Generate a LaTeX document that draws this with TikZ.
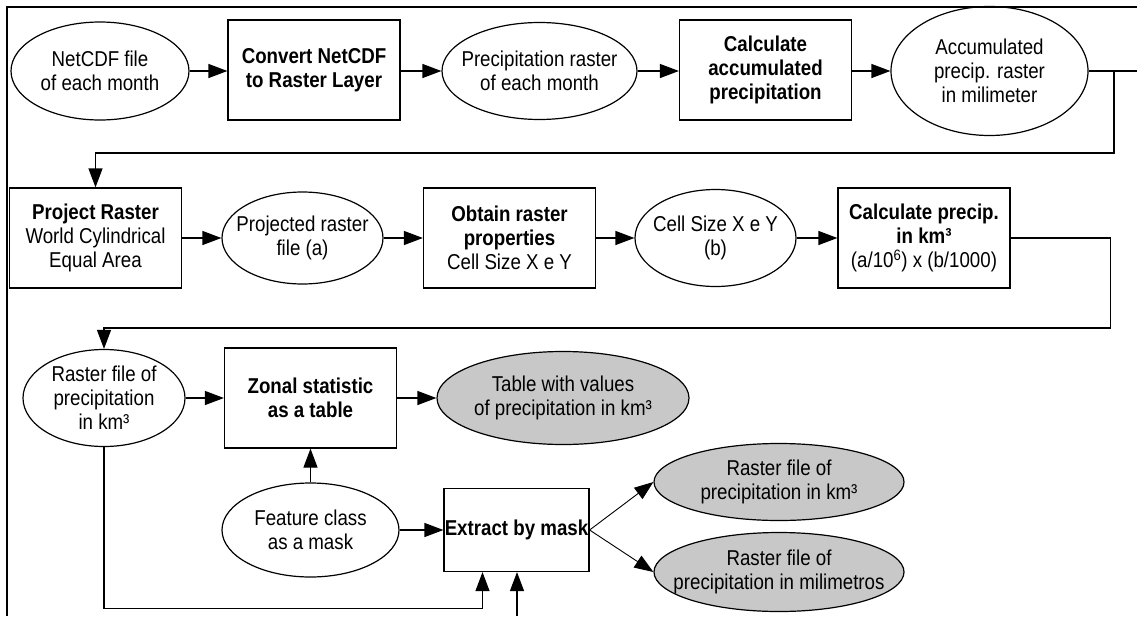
\documentclass[tikz,border=0pt]{standalone}
\usepackage{fontspec}
\setmainfont{Liberation Sans}[FakeStretch=0.87]
\usepackage{tikz}
\usetikzlibrary{shapes.geometric, arrows.meta}
\definecolor{outfill}{RGB}{200, 200, 200}

\begin{document}
\fontsize{21.5}{24}\selectfont
\begin{tikzpicture}[x=1pt, y=-1pt, line width=1.2pt,
  task/.style={draw, rectangle, align=center, inner sep=0pt, minimum width=172pt, minimum height=100pt},
  oval/.style={draw, ellipse, inner sep=0pt, label={[align=center]center:{#1}}},
  out/.style={oval=#1, fill=outfill},
  arr/.style={-{Triangle[length=19pt, width=14pt]}}]

  \useasboundingbox (0, 0) rectangle (1137, 616);
  \draw[line width=2pt] (7, 616) -- (7, 7) -- (1137, 7);

  % first row
  \node[oval={NetCDF file\\of each month}, minimum width=178pt, minimum height=98pt] (ncfile) at (100, 71) {};
  \node[task] (convert) at (314, 70) {\textbf{Convert NetCDF}\\\textbf{to Raster Layer}};
  \node[oval={Precipitation raster\\of each month}, minimum width=195pt, minimum height=97pt] (prraster) at (539.5, 71) {};
  \node[task] (accum) at (765.5, 70) {\textbf{Calculate}\\\textbf{accumulated}\\\textbf{precipitation}};
  \node[oval={Accumulated\\precip. raster\\in milimeter}, minimum width=197pt, minimum height=129pt] (accraster) at (989.5, 71) {};

  % second row
  \node[task] (project) at (95.5, 238) {\textbf{Project Raster}\\World Cylindrical\\Equal Area};
  \node[oval={Projected raster\\file (a)}, minimum width=161pt, minimum height=92pt] (projfile) at (302.5, 238) {};
  \node[task] (props) at (509.5, 238) {\textbf{Obtain raster}\\\textbf{properties}\\Cell Size X e Y};
  \node[oval={Cell Size X e Y\\(b)}, minimum width=161pt, minimum height=97pt] (cellsize) at (715.5, 238) {};
  \node[task] (calckm) at (924, 238) {\textbf{Calculate precip.}\\\textbf{in km³}\\(a/10\textsuperscript{6}) x (b/1000)};

  % third row
  \node[oval={Raster file of\\precipitation\\in km³}, minimum width=162pt, minimum height=97pt] (rasterkm) at (104, 398) {};
  \node[task] (zonal) at (310.5, 398) {\textbf{Zonal statistic}\\\textbf{as a table}};
  \node[out={Table with values\\of precipitation in km³}, minimum width=252pt, minimum height=93pt] (table) at (563, 398) {};
  \node[oval={Feature class\\as a mask}, minimum width=177pt, minimum height=94pt] (feature) at (310.5, 530) {};
  \node[task, minimum width=145pt, minimum height=83pt] (extract) at (516.5, 530) {\textbf{Extract by mask}};
  \node[out={Raster file of\\precipitation in km³}, minimum width=250pt, minimum height=77pt] (outkm) at (779, 482) {};
  \node[out={Raster file of\\precipitation in milimetros}, minimum width=250pt, minimum height=79pt] (outmm) at (779, 572) {};

  \coordinate (rimtop) at (1137, 71);
  \coordinate (split) at (1114, 71);
  \coordinate (rimbot) at (517, 616);

  \draw[arr] (ncfile) -- (ncfile -| convert.west);
  \draw[arr] (convert.east |- prraster) -- (prraster);
  \draw[arr] (prraster) -- (prraster -| accum.west);
  \draw[arr] (accum.east |- accraster) -- (accraster);
  \draw (accraster.east) -- (rimtop);
  \draw[arr] (split) -- ++(0, 82) -| (project.north);

  \draw[arr] (project) -- (projfile);
  \draw[arr] (projfile) -- (props);
  \draw[arr] (props) -- (cellsize);
  \draw[arr] (cellsize) -- (calckm);
  \draw[arr] (calckm.east) -- ++(100, 0) -- ++(0, 90) -| (rasterkm.north);

  \draw[arr] (rasterkm) -- (zonal);
  \draw[arr] (zonal) -- (table);
  \draw[arr] (feature) -- (zonal);
  \draw[arr] (feature) -- (extract);
  \draw[arr] (rasterkm.south) -- ++(0, 161) -| ([xshift=-34pt]extract.south);
  \draw[arr] (rimbot) -- (rimbot |- extract.south);
  \draw[arr, line width=0.9pt] (extract.east) -- (outkm.west);
  \draw[arr, line width=0.9pt] (extract.east) -- (outmm.west);

\end{tikzpicture}
\end{document}
